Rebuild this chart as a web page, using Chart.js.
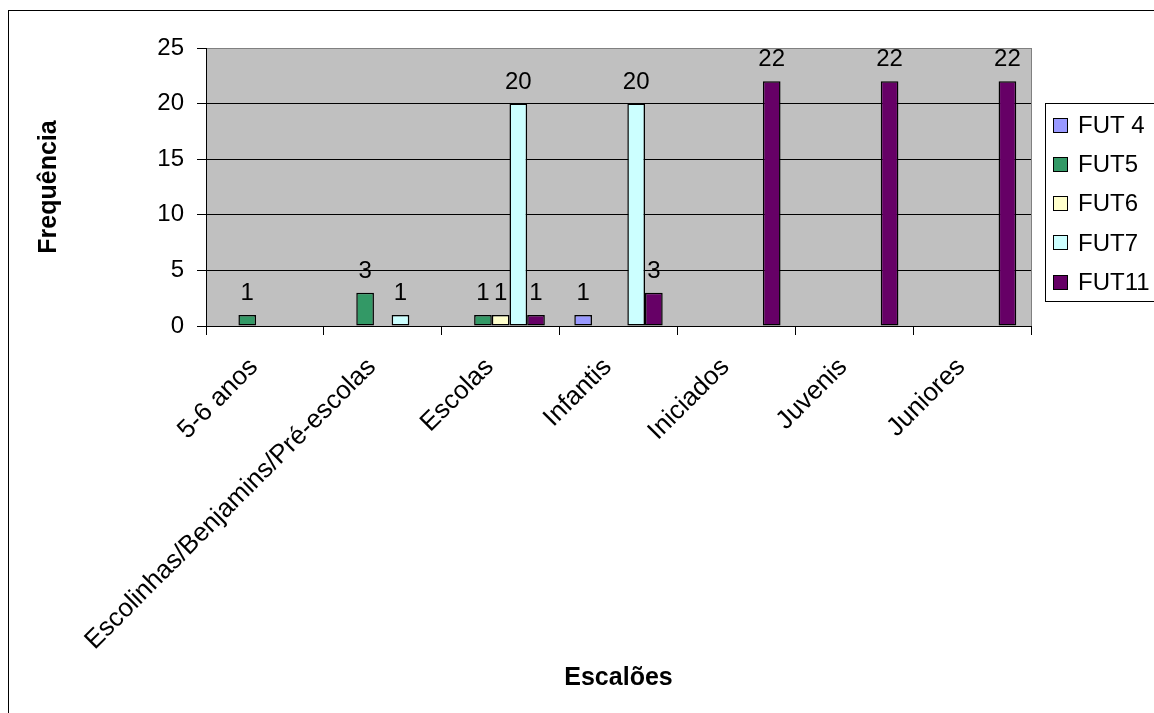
<!DOCTYPE html>
<html>
<head>
<meta charset="utf-8">
<title>Escalões</title>
<script src="https://cdn.jsdelivr.net/npm/chart.js@4/dist/chart.umd.min.js"></script>
<style>
  html, body { margin: 0; padding: 0; background: #fff; }
  #caixa { position: relative; width: 1154px; height: 713px; }
</style>
</head>
<body>
<div id="caixa"><canvas id="grafico"></canvas></div>
<script>
// categorias e séries
var escaloes = ['5-6 anos', 'Escolinhas/Benjamins/Pré-escolas', 'Escolas', 'Infantis', 'Iniciados', 'Juvenis', 'Juniores'];
var fut4  = [null, null, null, 1, null, null, null];
var fut5  = [1, 3, 1, null, null, null, null];
var fut6  = [null, null, 1, null, null, null, null];
var fut7  = [null, 1, 20, 20, null, null, null];
var fut11 = [null, null, 1, 3, 22, 22, 22];
var eixoY = [0, 5, 10, 15, 20, 25];

var fonte = '"Liberation Sans", Arial, sans-serif';

// fundo cinzento da área do gráfico e moldura exterior
var fundo = {
  id: 'fundo',
  beforeDraw: function(chart) {
    var ctx = chart.ctx, a = chart.chartArea;
    ctx.save();
    ctx.fillStyle = '#fff';
    ctx.fillRect(0, 0, chart.width, chart.height);
    ctx.strokeStyle = '#000';
    ctx.lineWidth = 1;
    ctx.strokeRect(8.5, 10.5, chart.width + 10, chart.height + 10);
    ctx.fillStyle = '#C0C0C0';
    ctx.fillRect(a.left, a.top, a.right - a.left, a.bottom - a.top);
    ctx.restore();
  },
  beforeDatasetsDraw: function(chart) {
    var ctx = chart.ctx, a = chart.chartArea;
    ctx.save();
    ctx.strokeStyle = '#808080';
    ctx.lineWidth = 1;
    ctx.beginPath();
    ctx.moveTo(Math.round(a.right) + 0.5, a.top);
    ctx.lineTo(Math.round(a.right) + 0.5, a.bottom);
    ctx.stroke();
    ctx.restore();
  }
};

// valores por cima das barras
var rotulos = {
  id: 'rotulos',
  afterDatasetsDraw: function(chart) {
    var ctx = chart.ctx;
    ctx.save();
    ctx.font = '24px ' + fonte;
    ctx.fillStyle = '#000';
    ctx.textAlign = 'center';
    ctx.textBaseline = 'alphabetic';
    chart.data.datasets.forEach(function(ds, i) {
      var meta = chart.getDatasetMeta(i);
      meta.data.forEach(function(bar, j) {
        var v = ds.data[j];
        if (v === null) return;
        ctx.fillText(String(v), bar.x, bar.y - 15);
      });
    });
    ctx.restore();
  }
};

// legenda com caixa
var legenda = {
  id: 'legenda',
  afterDraw: function(chart) {
    var ctx = chart.ctx;
    var x0 = 1045, y0 = 103, alt = 198;
    ctx.save();
    ctx.fillStyle = '#fff';
    ctx.fillRect(x0, y0, chart.width - x0 + 5, alt);
    ctx.strokeStyle = '#000';
    ctx.lineWidth = 1;
    ctx.strokeRect(x0 + 0.5, y0 + 0.5, chart.width - x0 + 5, alt);
    ctx.font = '24px ' + fonte;
    ctx.textBaseline = 'middle';
    ctx.textAlign = 'left';
    chart.data.datasets.forEach(function(ds, i) {
      var cy = 125 + i * 39.3;
      ctx.fillStyle = ds.backgroundColor;
      ctx.fillRect(1053, Math.round(cy - 7.5), 15, 15);
      ctx.strokeRect(1053.5, Math.round(cy - 7.5) + 0.5, 14, 14);
      ctx.fillStyle = '#000';
      ctx.fillText(ds.label, 1078, cy + 1);
    });
    ctx.restore();
  }
};

var ctx = document.getElementById('grafico');

var grafico = new Chart(ctx, {
  type: 'bar',
  data: {
    labels: escaloes,
    datasets: [
      { label: 'FUT 4', data: fut4,  backgroundColor: '#9999FF' },
      { label: 'FUT5',  data: fut5,  backgroundColor: '#339966' },
      { label: 'FUT6',  data: fut6,  backgroundColor: '#FFFFCC' },
      { label: 'FUT7',  data: fut7,  backgroundColor: '#CCFFFF' },
      { label: 'FUT11', data: fut11, backgroundColor: '#660066' }
    ]
  },
  options: {
    responsive: true,
    maintainAspectRatio: false,
    animation: false,
    events: [],
    datasets: {
      bar: {
        categoryPercentage: 0.75,
        barPercentage: 1.0,
        borderColor: '#000',
        borderWidth: 1.5,
        borderSkipped: false
      }
    },
    layout: { padding: { left: 8, top: 48, right: 123, bottom: 0 } },
    plugins: {
      legend: { display: false },
      tooltip: { enabled: false }
    },
    scales: {
      x: {
        afterFit: function(s) { s.height = 387; },
        grid: {
          offset: true,
          drawOnChartArea: false,
          drawTicks: true,
          tickLength: 9,
          tickColor: '#000'
        },
        border: { display: true, color: '#000', width: 1 },
        ticks: {
          autoSkip: false,
          maxRotation: 45,
          minRotation: 45,
          padding: 17,
          labelOffset: -11,
          color: '#000',
          font: { family: fonte, size: 26 }
        },
        title: {
          display: true,
          text: 'Escalões',
          color: '#000',
          padding: { top: 20, bottom: 20 },
          font: { family: fonte, size: 25, weight: 'bold' }
        }
      },
      y: {
        min: eixoY[0],
        max: eixoY[eixoY.length - 1],
        afterFit: function(s) { s.width = 198; },
        afterBuildTicks: function(s) {
          s.ticks = eixoY.map(function(v) { return { value: v }; });
        },
        grid: {
          color: function(c) { return c.tick && c.tick.value === 25 ? '#808080' : '#000'; },
          tickColor: '#000',
          tickLength: 9,
          lineWidth: 1
        },
        border: { display: true, color: '#000', width: 1 },
        ticks: {
          padding: 13,
          color: '#000',
          font: { family: fonte, size: 24 }
        },
        title: {
          display: true,
          text: 'Frequência',
          color: '#000',
          padding: { top: 26, bottom: 26 },
          font: { family: fonte, size: 25, weight: 'bold' }
        }
      }
    }
  },
  plugins: [fundo, rotulos, legenda]
});
</script>
</body>
</html>
